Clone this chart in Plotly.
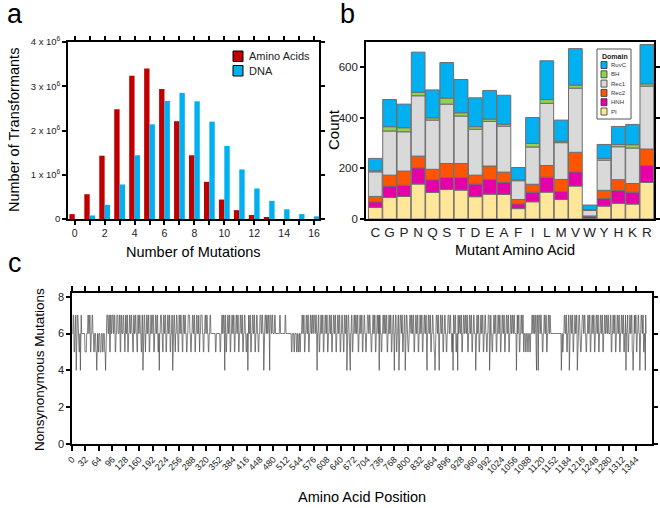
import plotly.graph_objects as go

# ---------------- Panel a data ----------------
mutations = list(range(17))
amino_acids = [0.11e6, 0.56e6, 1.43e6, 2.48e6, 3.24e6, 3.40e6, 2.94e6, 2.21e6, 1.44e6,
               0.84e6, 0.44e6, 0.20e6, 0.09e6, 0.04e6, 0, 0, 0]
dna = [0, 0.08e6, 0.32e6, 0.78e6, 1.44e6, 2.14e6, 2.67e6, 2.85e6, 2.66e6, 2.20e6,
       1.65e6, 1.12e6, 0.69e6, 0.41e6, 0.22e6, 0.11e6, 0.06e6]
a_ytickvals = [0, 1e6, 2e6, 3e6, 4e6]
a_yticktext = ["0", "1 x 10<sup>6</sup>", "2 x 10<sup>6</sup>", "3 x 10<sup>6</sup>", "4 x 10<sup>6</sup>"]

# ---------------- Panel b data ----------------
amino = ["C", "G", "P", "N", "Q", "S", "T", "D", "E", "A", "F", "I", "L", "M", "V", "W", "Y", "H", "K", "R"]
pi   = [46, 85, 89, 138, 105, 117, 114, 88, 98, 97, 41, 68, 106, 77, 130, 2, 51, 62, 59, 144]
hnh  = [22, 45, 44, 64, 50, 47, 50, 50, 58, 47, 19, 38, 59, 32, 56, 8, 30, 51, 47, 67]
rec2 = [21, 43, 56, 46, 41, 55, 55, 35, 53, 41, 17, 31, 46, 47, 77, 2, 32, 42, 34, 65]
rec1 = [97, 174, 155, 238, 194, 234, 187, 181, 176, 181, 74, 147, 245, 145, 253, 22, 119, 130, 140, 248]
bh   = [4, 17, 16, 14, 9, 24, 13, 10, 9, 8, 4, 14, 15, 6, 12, 3, 7, 9, 13, 9]
ruvc = [49, 107, 93, 158, 110, 140, 131, 114, 113, 114, 48, 102, 153, 83, 144, 18, 55, 71, 80, 155]
domains = ["PI", "HNH", "Rec2", "Rec1", "BH", "RuvC"]
domain_values = [pi, hnh, rec2, rec1, bh, ruvc]
domain_colors = ["#ffe699", "#e600a8", "#ff5500", "#d9d9d9", "#92d050", "#00b0f0"]

# ---------------- Panel c data ----------------
nonsyn_digits = (
    "66775567" "74667766" "55647766" "66666655"
    "55666776" "67755667" "76655666" "55466556"
    "66555666" "55666554" "66777667" "75577667"
    "77667755" "66777666" "77557766" "67766577"
    "66775566" "77667766" "55776677" "66557766"
    "77665577" "46677556" "67766775" "56677667"
    "77556677" "66775564" "66777665" "57766775"
    "56677667" "75566774" "66775566" "77665577"
    "66776655" "77667766" "55667777" "66556677"
    "66775566" "77666755" "66777766" "55667766"
    "77665566" "77666666" "66666556" "66666666"
    "55667766" "77647755" "66776677" "55667766"
    "77556677" "66775566" "77667755" "66776655"
    "66477667" "75566776" "67755667" "76655667"
    "77667766" "46677667" "76677647" "77667766"
    "66776666" "66666677" "66666666" "66677666"
    "66666666" "66556666" "55666655" "66556655"
    "66677667" "75566776" "67755667" "76677667"
    "77667764" "66775566" "77667755" "66776677"
    "55667766" "77556677" "66775566" "77667755"
    "66776655" "77667746" "67766546" "67755667"
    "76677667" "75566776" "67755667" "76655667"
    "77667766" "55667766" "77556677" "66747766"
    "55667766" "77667755" "66776677" "55667764"
    "66775566" "77466776" "67755667" "74667766"
    "55667766" "77667755" "66776677" "55667766"
    "77556677" "66775466" "77667755" "66776655"
    "46677667" "75466776" "67755667" "76655667"
    "77667766" "55647766" "77556647" "66776677"
    "55667766" "77667755" "66776677" "55667766"
    "64677667" "75566776" "67755667" "76655667"
    "77467766" "55667766" "77556677" "66775566"
    "77667755" "66776677" "55667766" "77667766"
    "66477667" "75566776" "67755666" "55666556"
    "66556667" "76677667" "75477647" "77667766"
    "55667766" "77556677" "66766666" "66666666"
    "66666666" "66666466" "55667766" "77556677"
    "46677667" "75566776" "67745667" "76655667"
    "77667766" "55667766" "77556677" "66775566"
    "77667755" "66776677" "55667766" "77667766"
    "66775566" "77667755" "66776677" "55667766"
    "77556674" "66775566" "77667755" "46776677"
    "55667766" "46677667" "75566476"
)
nonsyn_mutations = [int(ch) for ch in nonsyn_digits]
positions = list(range(1, len(nonsyn_mutations) + 1))
c_xtickvals = list(range(0, 1345, 32))

# ---------------- helpers ----------------
W, H = 660, 508
def X(px):
    return px / W
def Y(py):
    return 1 - py / H

FONT = "Liberation Sans, Arial, sans-serif"

fig = go.Figure()

# Panel a bars
fig.add_trace(go.Bar(x=mutations, y=amino_acids, width=0.36, offset=-0.36,
                     marker=dict(color="#c00000", line=dict(width=0)),
                     xaxis="x", yaxis="y", showlegend=False, name="Amino Acids"))
fig.add_trace(go.Bar(x=mutations, y=dna, width=0.36, offset=0.0,
                     marker=dict(color="#00b0f0", line=dict(width=0)),
                     xaxis="x", yaxis="y", showlegend=False, name="DNA"))

# Panel b stacked bars (manual stacking via base)
base = [0] * len(amino)
for name, vals, col in zip(domains, domain_values, domain_colors):
    fig.add_trace(go.Bar(x=amino, y=vals, base=list(base), width=0.96,
                         marker=dict(color=col, line=dict(color="#6e6e6e", width=1)),
                         xaxis="x2", yaxis="y2", showlegend=False, name=name))
    base = [b + v for b, v in zip(base, vals)]

# Panel c line
fig.add_trace(go.Scatter(x=positions, y=nonsyn_mutations, mode="lines",
                         line=dict(color="#4a4a4a", width=0.7),
                         xaxis="x3", yaxis="y3", showlegend=False))

def ax(size, **kw):
    d = dict(showline=True, mirror="ticks", linecolor="black", linewidth=1.6,
             ticks="outside", ticklen=4, tickwidth=1.5, tickcolor="black",
             showgrid=False, zeroline=False, automargin=False,
             tickfont=dict(family=FONT, size=size, color="#222"))
    d.update(kw)
    return d

fig.update_layout(
    width=W, height=H, autosize=False,
    margin=dict(l=0, r=0, t=0, b=0, pad=0),
    paper_bgcolor="white", plot_bgcolor="white",
    barmode="overlay",
    font=dict(family=FONT, color="black"),
    xaxis=ax(10.5, domain=[X(68), X(319)], range=[-0.45, 16.33],
             tickmode="linear", tick0=0, dtick=2, anchor="y",
             minor=dict(dtick=1, ticks="outside", ticklen=4, tickwidth=1.5, tickcolor="black", showgrid=False)),
    yaxis=ax(9.5, domain=[Y(219), Y(42)], range=[0, 4e6],
             tickvals=a_ytickvals, ticktext=a_yticktext, anchor="x"),
    xaxis2=ax(13.5, domain=[X(366), X(654)], range=[-0.65, 19.5],
              type="category", tickmode="array", tickvals=amino, ticktext=amino,
              ticks="", anchor="y2"),
    yaxis2=ax(11.5, domain=[Y(219), Y(42)], range=[0, 698],
              tickvals=[0, 200, 400, 600], anchor="x2"),
    xaxis3=ax(9, domain=[X(72), X(652)], range=[0, 1382],
              tickvals=c_xtickvals, tickangle=-45, ticklen=5, anchor="y3"),
    yaxis3=ax(11, domain=[Y(444), Y(293)], range=[0, 8.2],
              tickvals=[0, 2, 4, 6, 8], anchor="x3"),
)

ann = []
def text(px, py, s, size, angle=0, xanchor="center", bold=False, color="black"):
    if bold:
        s = "<b>" + s + "</b>"
    ann.append(dict(x=X(px), y=Y(py), xref="paper", yref="paper", text=s, showarrow=False,
                    textangle=angle, xanchor=xanchor, yanchor="middle",
                    font=dict(family=FONT, size=size, color=color)))

# panel letters
text(15, 14, "a", 27)
text(348, 14, "b", 27)
text(15, 263, "c", 27)
# axis titles
text(14, 130, "Number of Transformants", 14.5, angle=-90)
text(193, 252, "Number of Mutations", 14.5)
text(333, 130, "Count", 15, angle=-90)
text(515, 250, "Mutant Amino Acid", 14.5)
text(39, 370, "Nonsynonymous Mutations", 13.5, angle=-90)
text(362, 497, "Amino Acid Position", 14.5)

# panel a legend
shapes = []
shapes.append(dict(type="rect", xref="paper", yref="paper", x0=X(233), x1=X(243), y0=Y(61.5), y1=Y(51),
                   fillcolor="#c00000", line=dict(color="black", width=1)))
shapes.append(dict(type="rect", xref="paper", yref="paper", x0=X(233), x1=X(243), y0=Y(76), y1=Y(65.5),
                   fillcolor="#00b0f0", line=dict(color="black", width=1)))
text(247, 56, "Amino Acids", 11, xanchor="left", color="#222")
text(247, 71, "DNA", 11, xanchor="left", color="#222")

# panel b legend
shapes.append(dict(type="rect", xref="paper", yref="paper", x0=X(597), x1=X(631), y0=Y(119), y1=Y(49),
                   fillcolor="white", line=dict(color="#555", width=1)))
text(599.5, 56, "Domain", 7, xanchor="left", bold=True, color="#222")
legend_order = ["RuvC", "BH", "Rec1", "Rec2", "HNH", "PI"]
for i, nm in enumerate(legend_order):
    cy = 65 + i * 9.3
    col = domain_colors[domains.index(nm)]
    shapes.append(dict(type="rect", xref="paper", yref="paper", x0=X(601), x1=X(607),
                       y0=Y(cy + 3.5), y1=Y(cy - 3.5), fillcolor=col, line=dict(color="#333", width=0.8)))
    text(608.5, cy, nm, 6, xanchor="left", color="#333")

fig.update_layout(annotations=ann, shapes=shapes)
fig.write_html("out.html", config={"displayModeBar": False},
               post_script="document.body.style.margin='0';document.body.style.padding='0';")
